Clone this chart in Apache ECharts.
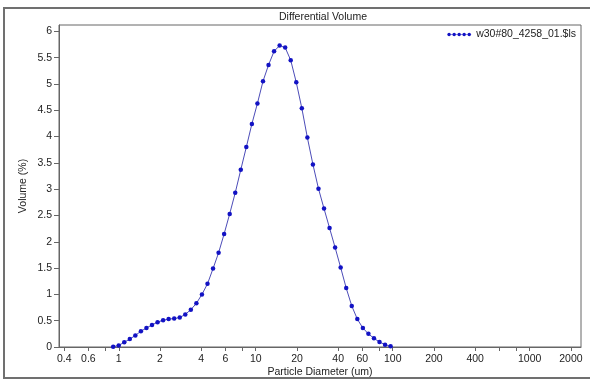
<!DOCTYPE html>
<html>
<head>
<meta charset="utf-8">
<script src="https://cdn.jsdelivr.net/npm/echarts@6/dist/echarts.min.js"></script>
<style>
  html, body { margin: 0; padding: 0; background: #ffffff; }
  #chart { width: 590px; height: 380px; }
</style>
</head>
<body>
<div id="chart"></div>
<script>
// LS channel mid-point diameters (um)
var diameters = [
  0.9099, 0.9986, 1.0962, 1.2034, 1.3211, 1.4503, 1.5921, 1.7478, 1.9187, 2.1063,
  2.3122, 2.5383, 2.7865, 3.0590, 3.3581, 3.6865, 4.0469, 4.4426, 4.8770, 5.3539,
  5.8774, 6.4521, 7.0830, 7.7756, 8.5359, 9.3706, 10.287, 11.293, 12.397, 13.609,
  14.940, 16.401, 18.004, 19.765, 21.697, 23.819, 26.148, 28.705, 31.511, 34.593,
  37.975, 41.689, 45.765, 50.240, 55.153, 60.546, 66.466, 72.966, 80.101, 87.934,
  96.533
];
// Differential volume (%) per channel
var volumes = [
  0.005, 0.03, 0.09, 0.15, 0.22, 0.30, 0.36, 0.42, 0.47, 0.51,
  0.53, 0.54, 0.56, 0.62, 0.71, 0.83, 1.00, 1.20, 1.49, 1.79,
  2.15, 2.53, 2.93, 3.37, 3.80, 4.24, 4.63, 5.05, 5.36, 5.62,
  5.73, 5.69, 5.45, 5.03, 4.54, 3.98, 3.47, 3.01, 2.63, 2.26,
  1.89, 1.51, 1.12, 0.78, 0.53, 0.36, 0.25, 0.165, 0.095, 0.045,
  0.015
];
var seriesName = 'w30#80_4258_01.$ls';
var xTickValues = [0.4, 0.6, 0.8, 1, 2, 4, 6, 8, 10, 20, 40, 60, 80, 100, 200, 400, 600, 800, 1000, 2000];
var xLabelValues = [0.4, 0.6, 1, 2, 4, 6, 10, 20, 40, 60, 100, 200, 400, 1000, 2000];
var yTickValues = [0, 0.5, 1, 1.5, 2, 2.5, 3, 3.5, 4, 4.5, 5, 5.5, 6];

var points = diameters.map(function (d, i) { return [d, volumes[i]]; });

var FONT = 'Liberation Sans, Arial, sans-serif';
var TEXT = '#222222';
var AXIS = '#666666';
var DOT = '#1212c4';
var LINE = '#4c4cb8';

// legend icon: five solid dots on a thin line (all sub-paths clockwise)
var legendIcon = 'path://M0,1.75h25v0.5h-25z' +
  'M0.2,2a1.8,1.8 0 1,1 3.6,0a1.8,1.8 0 1,1 -3.6,0z' +
  'M5.5,2a1.8,1.8 0 1,1 3.6,0a1.8,1.8 0 1,1 -3.6,0z' +
  'M10.7,2a1.8,1.8 0 1,1 3.6,0a1.8,1.8 0 1,1 -3.6,0z' +
  'M15.9,2a1.8,1.8 0 1,1 3.6,0a1.8,1.8 0 1,1 -3.6,0z' +
  'M21.2,2a1.8,1.8 0 1,1 3.6,0a1.8,1.8 0 1,1 -3.6,0z';

var chart = echarts.init(document.getElementById('chart'), null, { renderer: 'canvas' });
chart.setOption({
  animation: false,
  backgroundColor: '#ffffff',
  textStyle: { fontFamily: FONT },
  title: {
    text: 'Differential Volume',
    left: 318,
    textAlign: 'center',
    top: 7,
    textStyle: { fontSize: 10.5, fontWeight: 'normal', color: TEXT, fontFamily: FONT }
  },
  graphic: [{
    type: 'rect',
    silent: true,
    shape: { x: 4, y: 8, width: 590, height: 370 },
    style: { fill: null, stroke: '#707070', lineWidth: 2 }
  }],
  legend: {
    data: [{ name: seriesName, icon: legendIcon }],
    right: 9,
    top: 24,
    itemWidth: 24,
    itemHeight: 4,
    itemGap: 5,
    itemStyle: { color: DOT, borderWidth: 0 },
    lineStyle: { width: 0 },
    textStyle: { fontSize: 10.5, color: TEXT, fontFamily: FONT },
    selectedMode: false
  },
  grid: {
    left: 59, right: 9, top: 25, bottom: 33,
    outerBoundsMode: 'none',
    containLabel: false,
    show: true, borderColor: AXIS, borderWidth: 1, backgroundColor: 'transparent'
  },
  xAxis: {
    type: 'log',
    logBase: 10,
    min: 0.366,
    max: 2370,
    name: 'Particle Diameter (um)',
    nameLocation: 'middle',
    nameGap: 20,
    nameMoveOverlap: false,
    nameTextStyle: { fontSize: 10.5, color: TEXT, fontFamily: FONT },
    axisLine: { show: true, lineStyle: { color: AXIS, width: 1 } },
    axisTick: { show: true, length: 4, lineStyle: { color: AXIS }, customValues: xTickValues },
    axisLabel: {
      fontSize: 10.5, color: TEXT, margin: 7, customValues: xLabelValues,
      formatter: function (v) { return String(+v.toPrecision(4)); }
    },
    splitLine: { show: false },
    minorTick: { show: false }
  },
  yAxis: {
    type: 'value',
    min: 0,
    max: 6.12,
    name: 'Volume (%)',
    nameLocation: 'middle',
    nameGap: 30,
    nameMoveOverlap: false,
    nameTextStyle: { fontSize: 10.5, color: TEXT, fontFamily: FONT },
    axisLine: { show: true, lineStyle: { color: AXIS, width: 1 } },
    axisTick: { show: true, length: 5, lineStyle: { color: AXIS }, customValues: yTickValues },
    axisLabel: { fontSize: 10.5, color: TEXT, margin: 7, customValues: yTickValues },
    splitLine: { show: false }
  },
  series: [{
    name: seriesName,
    type: 'line',
    data: points,
    symbol: 'circle',
    symbolSize: 4.5,
    showAllSymbol: true,
    itemStyle: { color: DOT },
    lineStyle: { color: LINE, width: 1 },
    emphasis: { disabled: true }
  }]
});
</script>
</body>
</html>
